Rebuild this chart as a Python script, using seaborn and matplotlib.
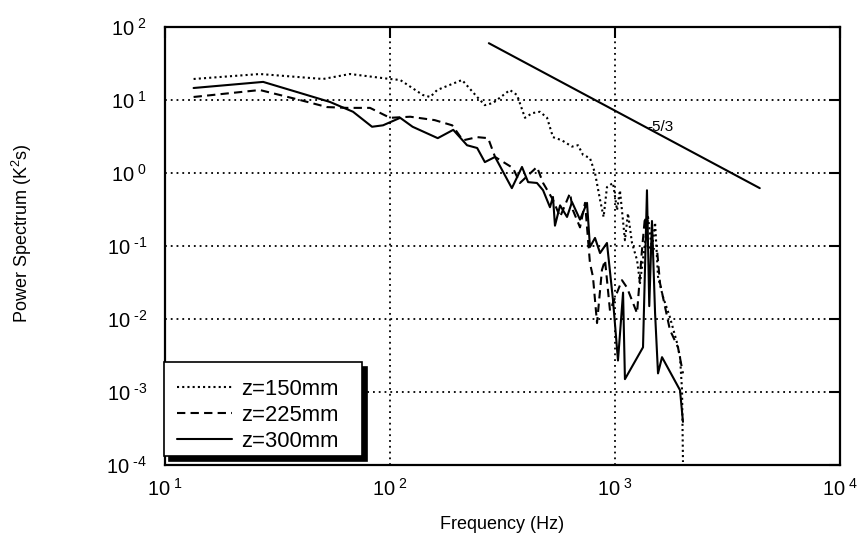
import numpy as np
import pandas as pd
import matplotlib
matplotlib.use("Agg")
import matplotlib.pyplot as plt
import seaborn as sns
from matplotlib.ticker import FuncFormatter, NullLocator
from matplotlib.patches import Rectangle

# ---- data ----
freq_150 = [13.4, 26.4, 50.4, 66.4, 100, 111, 140, 151, 162, 209, 244, 264, 287, 341, 367,
            398, 428, 464, 499, 530, 581, 644, 685, 721, 774, 815, 858, 890, 921, 980, 1021,
            1052, 1107, 1142, 1190, 1253, 1292, 1359, 1402, 1460, 1507, 1553, 1635, 1754,
            1887, 1945, 1986, 2005]
psd_150 = [19.4, 22.7, 19.4, 22.7, 19.4, 18.8, 11.7, 11.0, 13.7, 18.8, 11.0, 8.5, 9.1, 13.7, 11.7,
           5.7, 6.6, 6.9, 5.7, 3.1, 2.8, 2.3, 2.4, 1.77, 1.60, 1.0, 0.43, 0.25, 0.64, 0.73, 0.31,
           0.58, 0.12, 0.28, 0.11, 0.064, 0.031, 0.11, 0.25, 0.088, 0.21, 0.038, 0.020, 0.0106,
           0.0047, 0.0030, 0.00106, 0.00011]

freq_225 = [13.4, 26.4, 39.8, 52.5, 64.4, 81.5, 100, 123, 158, 189, 211, 244, 273, 293, 352,
            378, 450, 479, 530, 570, 631, 650, 699, 736, 774, 798, 832, 875, 903, 950, 1021,
            1074, 1130, 1190, 1253, 1318, 1359, 1402, 1538, 1585, 1754, 1905, 2005]
psd_225 = [11.0, 13.7, 10.0, 8.0, 7.8, 7.8, 5.7, 5.9, 5.3, 4.5, 2.8, 3.1, 3.0, 1.66, 1.17,
           0.73, 1.21, 0.73, 0.43, 0.25, 0.53, 0.31, 0.18, 0.39, 0.058, 0.038, 0.0088, 0.047,
           0.064, 0.013, 0.023, 0.034, 0.027, 0.018, 0.012, 0.088, 0.25, 0.097, 0.088, 0.031,
           0.0071, 0.0041, 0.0018]

freq_300 = [13.4, 27.3, 39.8, 54.1, 68.5, 83.2, 93.1, 111, 126, 163, 191, 220, 244, 264, 293,
            348, 386, 411, 450, 479, 514, 530, 541, 570, 612, 644, 699, 751, 774, 815, 858,
            921, 980, 1031, 1086, 1107, 1332, 1387, 1420, 1460, 1507, 1553, 1618, 1945, 2005]
psd_300 = [14.6, 17.7, 12.5, 9.4, 6.9, 4.3, 4.5, 5.7, 4.3, 3.0, 3.9, 2.4, 2.2, 1.41, 1.66,
           0.62, 1.21, 0.75, 0.73, 0.58, 0.34, 0.47, 0.19, 0.36, 0.25, 0.40, 0.23, 0.39, 0.097,
           0.129, 0.080, 0.11, 0.018, 0.0027, 0.023, 0.0015, 0.0041, 0.58, 0.015, 0.22, 0.012,
           0.0018, 0.0030, 0.00106, 0.00039]

slope_freq = [275, 4400]
slope_psd = [60, 0.62]
slope_label = "-5/3"

series_labels = ["z=150mm", "z=225mm", "z=300mm"]
x_ticks = [1e1, 1e2, 1e3, 1e4]
y_ticks = [1e-4, 1e-3, 1e-2, 1e-1, 1e0, 1e1, 1e2]

# ---- style ----
sns.set_theme(style="white")
plt.rcParams['font.family'] = ['Liberation Sans', 'DejaVu Sans']
plt.rcParams['mathtext.fontset'] = 'custom'
plt.rcParams['mathtext.rm'] = 'Liberation Sans'
plt.rcParams['mathtext.it'] = 'Liberation Sans:italic'
plt.rcParams['mathtext.bf'] = 'Liberation Sans:bold'
plt.rcParams['mathtext.default'] = 'regular'

W, H = 859, 545
fig = plt.figure(figsize=(W / 100, H / 100), dpi=100)
fig.patch.set_facecolor('white')
ax_l, ax_r, ax_t, ax_b = 165, 840, 27, 465
ax = fig.add_axes([ax_l / W, 1 - ax_b / H, (ax_r - ax_l) / W, (ax_b - ax_t) / H])
ax.set_facecolor('white')
ax.set_xscale('log')
ax.set_yscale('log')

styles = [(0, (1, 1.5)), (0, (4, 2.5)), '-']
datasets = [(freq_150, psd_150), (freq_225, psd_225), (freq_300, psd_300)]
for (f, p), lab, ls in zip(datasets, series_labels, styles):
    df = pd.DataFrame({"freq": f, "psd": p})
    sns.lineplot(data=df, x="freq", y="psd", ax=ax, color='black', lw=1.5,
                 linestyle=ls, label=lab, sort=False, estimator=None)

sdf = pd.DataFrame({"freq": slope_freq, "psd": slope_psd})
sns.lineplot(data=sdf, x="freq", y="psd", ax=ax, color='black', lw=1.5,
             sort=False, estimator=None, legend=False)
ax.text(1585, 4.3, slope_label, ha='center', va='center', fontsize=11, color='black')

ax.set_xlim(1e1, 1e4)
ax.set_ylim(1e-4, 1e2)


def fmt(v, pos):
    e = int(round(np.log10(v)))
    if e < 0:
        return r"$10^{\ \text{-}%d}$" % (-e)
    return r"$10^{\ %d}$" % e


ax.xaxis.set_major_locator(plt.FixedLocator(x_ticks))
ax.yaxis.set_major_locator(plt.FixedLocator(y_ticks))
ax.xaxis.set_minor_locator(NullLocator())
ax.yaxis.set_minor_locator(NullLocator())
ax.xaxis.set_major_formatter(FuncFormatter(fmt))
ax.yaxis.set_major_formatter(FuncFormatter(fmt))
ax.tick_params(axis='both', which='major', direction='in', length=8, width=1.5,
               top=True, right=True, labelsize=14.5, colors='black')
ax.tick_params(axis='x', pad=9)
ax.tick_params(axis='y', pad=13)

ax.grid(True, which='major', color='black', linestyle=(0, (1, 2.2)), linewidth=1.3)
for s in ax.spines.values():
    s.set_visible(True)
    s.set_color('black')
    s.set_linewidth(1.6)

ax.set_xlabel("Frequency (Hz)", fontsize=13, color='black')
ax.set_ylabel("Power Spectrum (K$^{2}$s)", fontsize=13, color='black')
ax.xaxis.set_label_coords(0.5, (ax_b - 516) / (ax_b - ax_t), transform=ax.transAxes)
ax.yaxis.set_label_coords((34 - ax_l) / (ax_r - ax_l), (ax_b - 233) / (ax_b - ax_t))

# ---- legend with black drop shadow ----
aw, ah = (ax_r - ax_l), (ax_b - ax_t)
bx0, bx1, by_top, by_bot = 164, 362, 362, 456
sh = 5
shadow = Rectangle(((bx0 + sh - ax_l) / aw, (ax_b - by_bot - sh) / ah),
                   (bx1 - bx0) / aw, (by_bot - by_top) / ah, transform=ax.transAxes,
                   facecolor='black', edgecolor='black', lw=1.2, zorder=5, clip_on=False)
frame = Rectangle(((bx0 - ax_l) / aw, (ax_b - by_bot) / ah),
                  (bx1 - bx0) / aw, (by_bot - by_top) / ah, transform=ax.transAxes,
                  facecolor='white', edgecolor='black', lw=1.2, zorder=6, clip_on=False)
ax.add_patch(shadow)
ax.add_patch(frame)
leg = ax.legend(loc='upper left',
                bbox_to_anchor=((bx0 - ax_l) / aw, (ax_b - by_top - 4) / ah),
                frameon=False, fontsize=15.8, handlelength=2.5, handletextpad=0.4,
                labelspacing=0.22, borderpad=0.6, borderaxespad=0)
leg.set_zorder(7)
for t in leg.get_texts():
    t.set_color('black')

fig.savefig("out.png", dpi=100, facecolor='white')
